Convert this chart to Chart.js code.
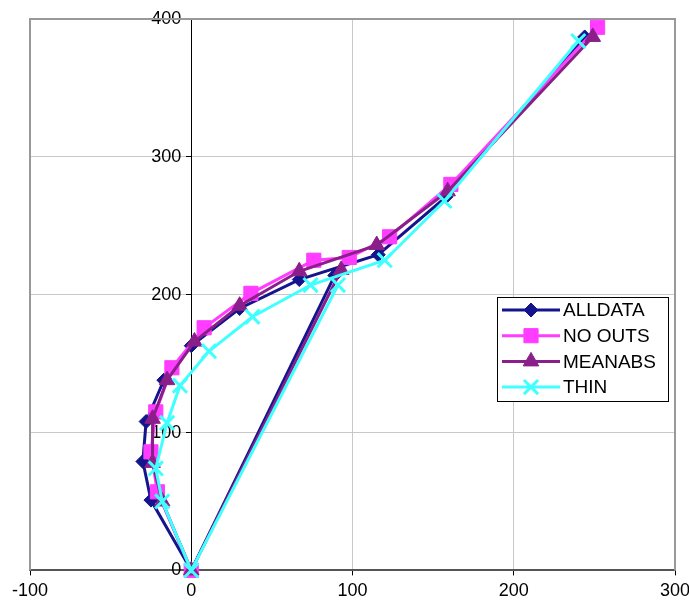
<!DOCTYPE html>
<html>
<head>
<meta charset="utf-8">
<script src="https://cdn.jsdelivr.net/npm/chart.js@4.4.1/dist/chart.umd.min.js"></script>
<style>
    html, body { margin: 0; padding: 0; background: #fff; }
</style>
</head>
<body>
<canvas id="myChart" width="689" height="604"></canvas>
<script>
const seriesNames = ['ALLDATA', 'NO OUTS', 'MEANABS', 'THIN'];

// each series: x and y, in drawing order
const alldataX = [89, 0, -25, -30, -28, -17, 0, 30, 67, 116, 158, 244];
const alldataY = [214, 0, 51, 79, 108, 138, 163, 190, 211, 229, 271, 387];

const nooutsX = [0, -21, -25, -22, -12, 8, 37, 76, 98, 123, 161, 252];
const nooutsY = [0, 57, 86, 115, 147, 176, 201, 225, 227, 242, 280, 394];

const meanabsX = [93, 0, -18, -24, -24, -15, 2, 30, 67, 115, 159, 249];
const meanabsY = [218, 0, 50, 78, 110, 138, 166, 192, 217, 236, 275, 387];

const thinX = [91, 0, -18, -22, -15, -7, 11, 38, 74, 120, 157, 240];
const thinY = [207, 0, 50, 74, 107, 134, 159, 184, 207, 225, 268, 384];

const xTicks = [-100, 0, 100, 200, 300];
const yTicks = [0, 100, 200, 300, 400];

const toPoints = (xs, ys) => xs.map((x, i) => ({ x: x, y: ys[i] }));

const FONT = 'Liberation Sans, Arial, sans-serif';

function makeSet(i, xs, ys, color, style, radius, bw, order) {
    return {
        label: seriesNames[i],
        data: toPoints(xs, ys),
        showLine: true,
        borderColor: color,
        backgroundColor: color,
        borderWidth: 3,
        tension: 0,
        pointStyle: style,
        pointRadius: radius,
        pointBorderWidth: bw,
        pointBackgroundColor: color,
        pointBorderColor: color,
        order: order,
        clip: false
    };
}

const datasets = [
    makeSet(0, alldataX, alldataY, '#14148c', 'rectRot', 7, 1, 3),
    makeSet(1, nooutsX, nooutsY, '#ff3cff', 'rect', 10, 1, 2),
    makeSet(2, meanabsX, meanabsY, '#8a1f8a', 'triangle', 9, 1, 1),
    makeSet(3, thinX, thinY, '#40ffff', 'crossRot', 10, 3, 0)
];

// grey frame on the left, top and right of the plot
const framePlugin = {
    id: 'frame',
    beforeDatasetsDraw(chart) {
        const a = chart.chartArea;
        const c = chart.ctx;
        c.save();
        c.strokeStyle = '#999';
        c.lineWidth = 2;
        c.beginPath();
        c.moveTo(a.left, a.bottom);
        c.lineTo(a.left, a.top);
        c.lineTo(a.right, a.top);
        c.lineTo(a.right, a.bottom);
        c.stroke();
        c.restore();
    }
};

// boxed legend sitting inside the plot
const boxLegend = {
    id: 'boxLegend',
    afterDraw(chart) {
        const c = chart.ctx;
        const left = 497, top = 297, w = 171, h = 104;
        c.save();
        c.fillStyle = '#fff';
        c.fillRect(left, top, w, h);
        c.strokeStyle = '#000';
        c.lineWidth = 1;
        c.strokeRect(left + 0.5, top + 0.5, w, h);
        chart.data.datasets.forEach((ds, i) => {
            const y = top + 13 + i * 25.7;
            c.strokeStyle = ds.borderColor;
            c.fillStyle = ds.backgroundColor;
            c.lineWidth = 3;
            c.beginPath();
            c.moveTo(502, y);
            c.lineTo(560, y);
            c.stroke();
            c.lineWidth = ds.pointBorderWidth;
            Chart.helpers.drawPoint(c, {
                pointStyle: ds.pointStyle,
                radius: ds.pointRadius,
                rotation: 0,
                borderWidth: ds.pointBorderWidth
            }, 531, y);
            c.fillStyle = '#000';
            c.font = '19px ' + FONT;
            c.textBaseline = 'middle';
            c.textAlign = 'left';
            c.fillText(ds.label, 563, y + 1);
        });
        c.restore();
    }
};

const config = {
    type: 'scatter',
    data: { datasets: datasets },
    options: {
        responsive: false,
        animation: false,
        layout: { padding: { left: 30, right: 14, top: 19, bottom: -3 } },
        plugins: {
            legend: { display: false },
            tooltip: { enabled: false }
        },
        scales: {
            x: {
                type: 'linear',
                position: 'bottom',
                min: xTicks[0],
                max: xTicks[xTicks.length - 1],
                afterBuildTicks: s => { s.ticks = xTicks.map(v => ({ value: v })); },
                afterFit: s => { s.paddingLeft = 0; s.paddingRight = 0; },
                ticks: {
                    color: '#000',
                    font: { family: FONT, size: 18 },
                    padding: 5,
                    maxRotation: 0
                },
                grid: {
                    color: c => (c.tick && c.tick.value === 0) ? 'rgba(0,0,0,0)' : '#c8c8c8',
                    tickColor: '#000',
                    tickLength: 5
                },
                border: { color: '#555', width: 2 }
            },
            y: {
                type: 'linear',
                position: { x: 0 },
                min: yTicks[0],
                max: yTicks[yTicks.length - 1],
                afterBuildTicks: s => { s.ticks = yTicks.map(v => ({ value: v })); },
                ticks: {
                    color: '#000',
                    font: { family: FONT, size: 18 },
                    callback: v => v + '  '
                },
                grid: {
                    color: c => (c.tick && c.tick.value === 0) ? 'rgba(0,0,0,0)' : '#c8c8c8',
                    tickColor: '#000',
                    tickLength: 5
                },
                border: { color: '#000', width: 1 }
            }
        }
    },
    plugins: [framePlugin, boxLegend]
};

const myChart = new Chart(document.getElementById('myChart'), config);
</script>
</body>
</html>
